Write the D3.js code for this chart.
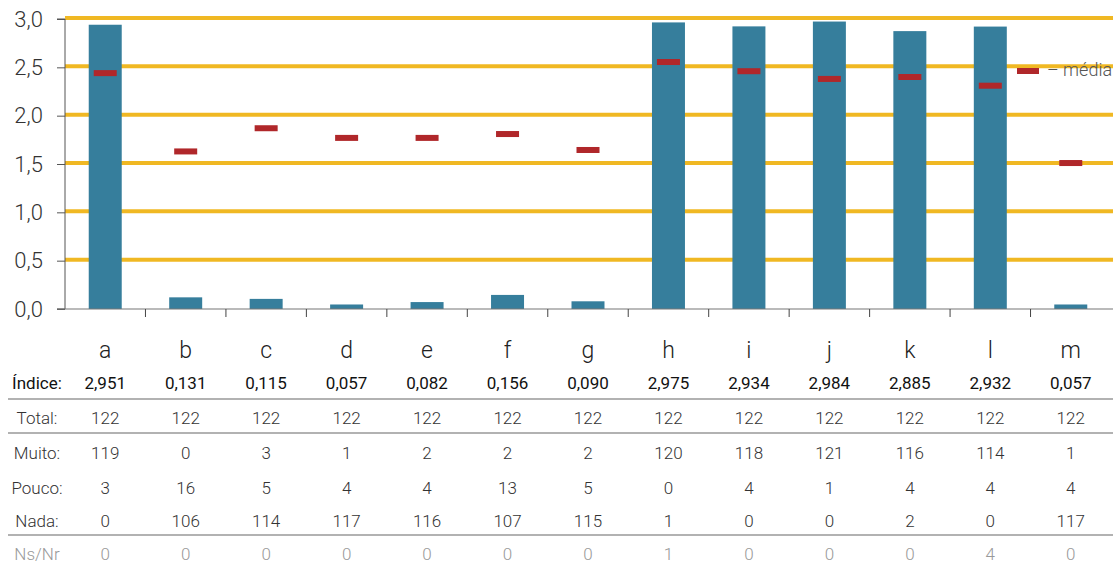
<!DOCTYPE html>
<html>
<head>
<meta charset="utf-8">
<script src="https://cdn.jsdelivr.net/npm/d3@7"></script>
<style>
  body { margin: 0; background: #fff; }
  svg { display: block; font-family: Roboto, "Noto Sans", sans-serif; }
</style>
</head>
<body>
<div id="chart"></div>
<script>
var categories = ["a", "b", "c", "d", "e", "f", "g", "h", "i", "j", "k", "l", "m"];
var indice = [2.951, 0.131, 0.115, 0.057, 0.082, 0.156, 0.090, 2.975, 2.934, 2.984, 2.885, 2.932, 0.057];
var media = [2.44, 1.63, 1.87, 1.77, 1.77, 1.81, 1.645, 2.555, 2.46, 2.38, 2.40, 2.31, 1.51];
var total = [122, 122, 122, 122, 122, 122, 122, 122, 122, 122, 122, 122, 122];
var muito = [119, 0, 3, 1, 2, 2, 2, 120, 118, 121, 116, 114, 1];
var pouco = [3, 16, 5, 4, 4, 13, 5, 0, 4, 1, 4, 4, 4];
var nada = [0, 106, 114, 117, 116, 107, 115, 1, 0, 0, 2, 0, 117];
var nsnr = [0, 0, 0, 0, 0, 0, 0, 1, 0, 0, 0, 4, 0];
var yTicks = [0, 0.5, 1, 1.5, 2, 2.5, 3];

var width = 1113;
var height = 564;

var fmt = function(v) { return d3.format(".1f")(v).replace(".", ","); };
var fmt3 = function(v) { return d3.format(".3f")(v).replace(".", ","); };

var svg = d3.select("#chart")
  .append("svg")
  .attr("width", width)
  .attr("height", height);

var x = d3.scaleBand()
  .domain(categories)
  .range([65, 1111])
  .paddingInner(0.59)
  .paddingOuter(0.295);

var y = d3.scaleLinear()
  .domain([0, 3])
  .range([309, 19]);

// yellow grid lines
svg.selectAll(".grid")
  .data(yTicks.filter(function(d) { return d > 0; }))
  .enter()
  .append("line")
  .attr("class", "grid")
  .attr("x1", 65)
  .attr("x2", width)
  .attr("y1", function(d) { return y(d) - 1; })
  .attr("y2", function(d) { return y(d) - 1; })
  .attr("stroke", "#f0b823")
  .attr("stroke-width", 4);

// bars
svg.selectAll(".bar")
  .data(categories)
  .enter()
  .append("rect")
  .attr("class", "bar")
  .attr("x", function(d) { return x(d); })
  .attr("width", x.bandwidth())
  .attr("y", function(d, i) { return y(indice[i]) + 1; })
  .attr("height", function(d, i) { return y(0) - y(indice[i]) - 1; })
  .attr("fill", "#367e9c");

// mean markers
svg.selectAll(".mean")
  .data(categories)
  .enter()
  .append("rect")
  .attr("class", "mean")
  .attr("x", function(d) { return x(d) + x.bandwidth() / 2 - 11.5; })
  .attr("width", 23)
  .attr("y", function(d, i) { return y(media[i]) - 3; })
  .attr("height", 6)
  .attr("fill", "#b0272a");

// y axis
var yAxis = d3.axisLeft(y)
  .tickValues(yTicks)
  .tickSize(8)
  .tickPadding(14)
  .tickFormat(fmt);

var gy = svg.append("g")
  .attr("transform", "translate(65,0)")
  .call(yAxis);
gy.select(".domain").attr("stroke", "#555").attr("d", "M-8,19H0V309H-8");
gy.selectAll(".tick line").attr("stroke", "#555");
gy.selectAll(".tick text")
  .attr("fill", "#333")
  .attr("font-size", "22px")
  .attr("font-weight", 300)
  .attr("font-family", "Roboto, sans-serif");

// x axis baseline and band ticks
svg.append("line")
  .attr("x1", 57)
  .attr("x2", width)
  .attr("y1", 309)
  .attr("y2", 309)
  .attr("stroke", "#777")
  .attr("stroke-width", 1.2);

svg.selectAll(".xtick")
  .data(categories.slice(1))
  .enter()
  .append("line")
  .attr("class", "xtick")
  .attr("x1", function(d) { return x(d) - x.step() * x.paddingInner() / 2; })
  .attr("x2", function(d) { return x(d) - x.step() * x.paddingInner() / 2; })
  .attr("y1", 309)
  .attr("y2", 317)
  .attr("stroke", "#444");

// category labels
svg.selectAll(".cat")
  .data(categories)
  .enter()
  .append("text")
  .attr("class", "cat")
  .attr("x", function(d) { return x(d) + x.bandwidth() / 2; })
  .attr("y", 358)
  .attr("text-anchor", "middle")
  .attr("font-size", "23px")
  .attr("font-weight", 300)
  .attr("fill", "#222")
  .text(function(d) { return d; });

// table rows
var rows = [
  { label: "Índice:", values: indice.map(fmt3), y: 389, weight: 400, color: "#111" },
  { label: "Total:", values: total, y: 424, weight: 300, color: "#333" },
  { label: "Muito:", values: muito, y: 459, weight: 300, color: "#333" },
  { label: "Pouco:", values: pouco, y: 494, weight: 300, color: "#333" },
  { label: "Nada:", values: nada, y: 527, weight: 300, color: "#333" },
  { label: "Ns/Nr", values: nsnr, y: 560, weight: 300, color: "#999" }
];

rows.forEach(function(r) {
  svg.append("text")
    .attr("x", 37)
    .attr("y", r.y)
    .attr("text-anchor", "middle")
    .attr("font-size", "17px")
    .attr("font-weight", r.weight)
    .attr("fill", r.color)
    .text(r.label);

  svg.selectAll(null)
    .data(r.values)
    .enter()
    .append("text")
    .attr("x", function(d, i) { return x(categories[i]) + x.bandwidth() / 2; })
    .attr("y", r.y)
    .attr("text-anchor", "middle")
    .attr("font-size", "17px")
    .attr("font-weight", r.weight)
    .attr("fill", r.color)
    .text(function(d) { return d; });
});

// row separators
[399, 433, 535].forEach(function(ly) {
  svg.append("line")
    .attr("x1", 8)
    .attr("x2", width)
    .attr("y1", ly)
    .attr("y2", ly)
    .attr("stroke", "#666")
    .attr("stroke-width", 1.2);
});

// legend
svg.append("rect")
  .attr("x", 1017)
  .attr("y", 68)
  .attr("width", 22)
  .attr("height", 6)
  .attr("fill", "#b0272a");

svg.append("text")
  .attr("x", 1047)
  .attr("y", 76)
  .attr("font-size", "18px")
  .attr("font-weight", 300)
  .attr("fill", "#555")
  .text("– média");
</script>
</body>
</html>
